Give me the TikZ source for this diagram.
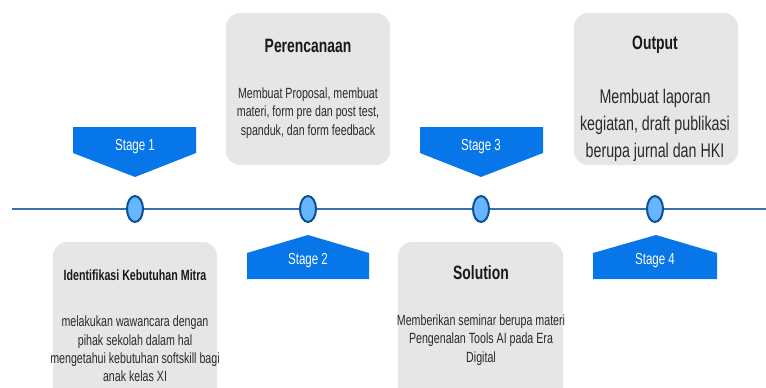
\documentclass[tikz,border=0pt]{standalone}
\usepackage{fontspec}
\setmainfont{Liberation Sans}[FakeStretch=0.72]
\usetikzlibrary{shapes.geometric}
\definecolor{boxgray}{HTML}{E6E6E6}
\definecolor{stageblue}{HTML}{0776E8}
\definecolor{linebl}{HTML}{3A6FB6}
\definecolor{dotfill}{HTML}{66B5FF}
\definecolor{dotline}{HTML}{0B4F95}
\definecolor{txt}{HTML}{2A2A2A}
\tikzset{
  infobox/.style={fill=boxgray, rounded corners=14pt},
  stageshape/.style={fill=stageblue},
  stagetext/.style={text=white, font=\fontsize{16}{18}\selectfont},
  dot/.style={ellipse, draw=dotline, line width=2pt, fill=dotfill, minimum width=16pt, minimum height=26pt, inner sep=0pt},
  titletext/.style={text=black!90, font=\bfseries\fontsize{19.3}{22}\selectfont, align=center},
  smalltitle/.style={text=black!90, font=\bfseries\fontsize{14.8}{17}\selectfont, align=center},
  bodytext/.style={text=txt, font=\fontsize{14.8}{18.3}\selectfont, align=center},
  bigbody/.style={text=txt, font=\fontsize{19.8}{27}\selectfont, align=center},
}
\begin{document}
\begin{tikzpicture}[x=1pt,y=-1pt]
\useasboundingbox (0,0) rectangle (766,388);
\clip (0,0) rectangle (766,388);
% boxes
\fill[infobox] (226,13) rectangle (390,165);
\node[titletext] (t2) at (308,46) {Perencanaan};
\node[bodytext] (b2) at (308,113) {Membuat Proposal, membuat\\materi, form pre dan post test,\\spanduk, dan form feedback};
\fill[infobox] (574,13) rectangle (738,165);
\node[titletext] (t4) at (655,45) {Output};
\node[bigbody] (b4) at (655,125) {Membuat laporan\\kegiatan, draft publikasi\\berupa jurnal dan HKI};
\fill[infobox] (53,242) rectangle (217,410);
\node[smalltitle] (t1) at (135,275) {Identifikasi Kebutuhan Mitra};
\node[bodytext] (b1) at (135,349) {melakukan wawancara dengan\\pihak sekolah dalam hal\\mengetahui kebutuhan softskill bagi\\anak kelas XI};
\fill[infobox] (398,242) rectangle (563,410);
\node[titletext] (t3) at (481,273) {Solution};
\node[bodytext] (b3) at (481,340) {Memberikan seminar berupa materi\\Pengenalan Tools AI pada Era\\Digital};
% stages
\fill[stageshape] (73,127) -- (196,127) -- (196,153) -- (135,177) -- (73,153) -- cycle;
\node[stagetext] (s1) at (135,147) {Stage 1};
\fill[stageshape] (420,127) -- (543,127) -- (543,153) -- (481,177) -- (420,153) -- cycle;
\node[stagetext] (s3) at (481,147) {Stage 3};
\fill[stageshape] (247,279) -- (369,279) -- (369,253) -- (308,235) -- (247,253) -- cycle;
\node[stagetext] (s2) at (308,261) {Stage 2};
\fill[stageshape] (593,279) -- (717,279) -- (717,253) -- (656,235) -- (593,253) -- cycle;
\node[stagetext] (s4) at (655,261) {Stage 4};
% timeline
\coordinate (ls) at (12,209);
\coordinate (le) at (766,209);
\draw[linebl, line width=2.6pt] (ls) -- (le);
\node[dot] (d1) at (135,209) {};
\node[dot] (d2) at (308,209) {};
\node[dot] (d3) at (481,209) {};
\node[dot] (d4) at (655,209) {};
\end{tikzpicture}
\end{document}
